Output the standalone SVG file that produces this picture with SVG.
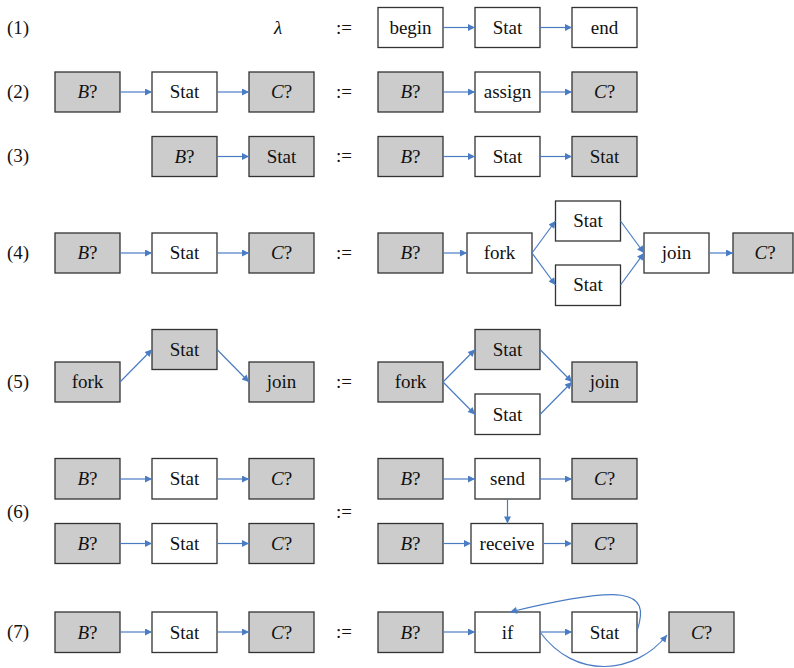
<svg xmlns="http://www.w3.org/2000/svg" width="794" height="668" viewBox="0 0 794 668">
<defs>
<style>
.b{stroke:#333;stroke-width:1.3;fill:#fff}
.g{fill:#cccccc}
text{font-family:"Liberation Serif","Times New Roman",Tinos,"DejaVu Serif","Noto Serif",serif;font-size:19px;fill:#111;text-anchor:middle}
.lab{text-anchor:start}
.i{font-style:italic}
.c path,.c line{stroke:#4a7cc4;stroke-width:1.2;fill:none;marker-end:url(#ah)}
</style>
<marker id="ah" viewBox="0 0 10 10" refX="10" refY="5" markerWidth="9" markerHeight="7" markerUnits="userSpaceOnUse" orient="auto">
<path d="M0,0 L10,5 L0,10 z" fill="#4a7cc4"/>
</marker>
</defs>
<rect width="794" height="668" fill="#fff"/>
<g id="labels">
<text class="lab" x="7" y="34">(1)</text>
<text class="lab" x="7" y="98">(2)</text>
<text class="lab" x="7" y="162">(3)</text>
<text class="lab" x="7" y="259">(4)</text>
<text class="lab" x="7" y="388">(5)</text>
<text class="lab" x="7" y="518">(6)</text>
<text class="lab" x="7" y="638">(7)</text>
<text x="278" y="34" class="i">λ</text>
<text x="344" y="34">:=</text>
<text x="344" y="98">:=</text>
<text x="344" y="162">:=</text>
<text x="344" y="259">:=</text>
<text x="344" y="388">:=</text>
<text x="344" y="518">:=</text>
<text x="344" y="638">:=</text>
</g>

<g id="r1-begin"><rect class="b" x="378" y="7.5" width="65" height="40"/><text x="410.5" y="33.5">begin</text></g>
<g id="r1-stat"><rect class="b" x="475" y="7.5" width="65" height="40"/><text x="507.5" y="33.5">Stat</text></g>
<g id="r1-end"><rect class="b" x="572" y="7.5" width="65" height="40"/><text x="604.5" y="33.5">end</text></g>

<g id="r2-lb"><rect class="b g" x="55" y="72" width="65" height="40"/><text x="87.5" y="98"><tspan class="i">B</tspan>?</text></g>
<g id="r2-ls"><rect class="b" x="152" y="72" width="65" height="40"/><text x="184.5" y="98">Stat</text></g>
<g id="r2-lc"><rect class="b g" x="249" y="72" width="65" height="40"/><text x="281.5" y="98"><tspan class="i">C</tspan>?</text></g>
<g id="r2-rb"><rect class="b g" x="378" y="72" width="65" height="40"/><text x="410.5" y="98"><tspan class="i">B</tspan>?</text></g>
<g id="r2-ra"><rect class="b" x="475" y="72" width="65" height="40"/><text x="507.5" y="98">assign</text></g>
<g id="r2-rc"><rect class="b g" x="572" y="72" width="65" height="40"/><text x="604.5" y="98"><tspan class="i">C</tspan>?</text></g>

<g id="r3-lb"><rect class="b g" x="152" y="136.5" width="65" height="40"/><text x="184.5" y="162.5"><tspan class="i">B</tspan>?</text></g>
<g id="r3-ls"><rect class="b g" x="249" y="136.5" width="65" height="40"/><text x="281.5" y="162.5">Stat</text></g>
<g id="r3-rb"><rect class="b g" x="378" y="136.5" width="65" height="40"/><text x="410.5" y="162.5"><tspan class="i">B</tspan>?</text></g>
<g id="r3-rs"><rect class="b" x="475" y="136.5" width="65" height="40"/><text x="507.5" y="162.5">Stat</text></g>
<g id="r3-rs2"><rect class="b g" x="572" y="136.5" width="65" height="40"/><text x="604.5" y="162.5">Stat</text></g>

<g id="r4-lb"><rect class="b g" x="55" y="233" width="65" height="40"/><text x="87.5" y="259"><tspan class="i">B</tspan>?</text></g>
<g id="r4-ls"><rect class="b" x="152" y="233" width="65" height="40"/><text x="184.5" y="259">Stat</text></g>
<g id="r4-lc"><rect class="b g" x="249" y="233" width="65" height="40"/><text x="281.5" y="259"><tspan class="i">C</tspan>?</text></g>
<g id="r4-rb"><rect class="b g" x="378" y="233" width="65" height="40"/><text x="410.5" y="259"><tspan class="i">B</tspan>?</text></g>
<g id="r4-fork"><rect class="b" x="467" y="233" width="65" height="40"/><text x="499.5" y="259">fork</text></g>
<g id="r4-s1"><rect class="b" x="555.5" y="201" width="65" height="40"/><text x="588" y="227">Stat</text></g>
<g id="r4-s2"><rect class="b" x="555.5" y="265" width="65" height="40.5"/><text x="588" y="291">Stat</text></g>
<g id="r4-join"><rect class="b" x="644" y="233" width="65" height="40"/><text x="676.5" y="259">join</text></g>
<g id="r4-rc"><rect class="b g" x="733" y="233" width="60" height="40"/><text x="765" y="259"><tspan class="i">C</tspan>?</text></g>

<g id="r5-lf"><rect class="b g" x="55" y="362" width="65" height="40"/><text x="87.5" y="388">fork</text></g>
<g id="r5-ls"><rect class="b g" x="152" y="329.5" width="65" height="40"/><text x="184.5" y="355.5">Stat</text></g>
<g id="r5-lj"><rect class="b g" x="249" y="362" width="65" height="40"/><text x="281.5" y="388">join</text></g>
<g id="r5-rf"><rect class="b g" x="378" y="362" width="65" height="40"/><text x="410.5" y="388">fork</text></g>
<g id="r5-rs1"><rect class="b g" x="475" y="329.5" width="65" height="40"/><text x="507.5" y="355.5">Stat</text></g>
<g id="r5-rs2"><rect class="b" x="475" y="394" width="65" height="40.5"/><text x="507.5" y="420.5">Stat</text></g>
<g id="r5-rj"><rect class="b g" x="572" y="362" width="65" height="40"/><text x="604.5" y="388">join</text></g>

<g id="r6-lb1"><rect class="b g" x="55" y="458.5" width="65" height="40.5"/><text x="87.5" y="485"><tspan class="i">B</tspan>?</text></g>
<g id="r6-ls1"><rect class="b" x="152" y="458.5" width="65" height="40.5"/><text x="184.5" y="485">Stat</text></g>
<g id="r6-lc1"><rect class="b g" x="249" y="458.5" width="65" height="40.5"/><text x="281.5" y="485"><tspan class="i">C</tspan>?</text></g>
<g id="r6-lb2"><rect class="b g" x="55" y="523.5" width="65" height="40"/><text x="87.5" y="549.5"><tspan class="i">B</tspan>?</text></g>
<g id="r6-ls2"><rect class="b" x="152" y="523.5" width="65" height="40"/><text x="184.5" y="549.5">Stat</text></g>
<g id="r6-lc2"><rect class="b g" x="249" y="523.5" width="65" height="40"/><text x="281.5" y="549.5"><tspan class="i">C</tspan>?</text></g>
<g id="r6-rb1"><rect class="b g" x="378" y="458.5" width="65" height="40.5"/><text x="410.5" y="485"><tspan class="i">B</tspan>?</text></g>
<g id="r6-send"><rect class="b" x="475" y="458.5" width="65" height="40.5"/><text x="507.5" y="485">send</text></g>
<g id="r6-rc1"><rect class="b g" x="572" y="458.5" width="65" height="40.5"/><text x="604.5" y="485"><tspan class="i">C</tspan>?</text></g>
<g id="r6-rb2"><rect class="b g" x="378" y="523.5" width="65" height="40"/><text x="410.5" y="549.5"><tspan class="i">B</tspan>?</text></g>
<g id="r6-recv"><rect class="b" x="471" y="523.5" width="72" height="40"/><text x="507" y="549.5">receive</text></g>
<g id="r6-rc2"><rect class="b g" x="572" y="523.5" width="65" height="40"/><text x="604.5" y="549.5"><tspan class="i">C</tspan>?</text></g>

<g id="r7-lb"><rect class="b g" x="55" y="612" width="65" height="40.5"/><text x="87.5" y="638.5"><tspan class="i">B</tspan>?</text></g>
<g id="r7-ls"><rect class="b" x="152" y="612" width="65" height="40.5"/><text x="184.5" y="638.5">Stat</text></g>
<g id="r7-lc"><rect class="b g" x="249" y="612" width="65" height="40.5"/><text x="281.5" y="638.5"><tspan class="i">C</tspan>?</text></g>
<g id="r7-rb"><rect class="b g" x="378" y="612" width="65" height="40.5"/><text x="410.5" y="638.5"><tspan class="i">B</tspan>?</text></g>
<g id="r7-if"><rect class="b" x="475" y="612" width="65" height="40.5"/><text x="507.5" y="638.5">if</text></g>
<g id="r7-stat"><rect class="b" x="572" y="612" width="65" height="40.5"/><text x="604.5" y="638.5">Stat</text></g>
<g id="r7-rc"><rect class="b g" x="669" y="612" width="65" height="40.5"/><text x="701.5" y="638.5"><tspan class="i">C</tspan>?</text></g>

<g id="connectors" class="c">
<line x1="443" y1="27.5" x2="475" y2="27.5"/>
<line x1="540" y1="27.5" x2="572" y2="27.5"/>
<line x1="120" y1="92" x2="152" y2="92"/>
<line x1="217" y1="92" x2="249" y2="92"/>
<line x1="443" y1="92" x2="475" y2="92"/>
<line x1="540" y1="92" x2="572" y2="92"/>
<line x1="217" y1="156.5" x2="249" y2="156.5"/>
<line x1="443" y1="156.5" x2="475" y2="156.5"/>
<line x1="540" y1="156.5" x2="572" y2="156.5"/>
<line x1="120" y1="253" x2="152" y2="253"/>
<line x1="217" y1="253" x2="249" y2="253"/>
<line x1="443" y1="253" x2="467" y2="253"/>
<line x1="532" y1="253" x2="555.5" y2="221"/>
<line x1="532" y1="253" x2="555.5" y2="285"/>
<line x1="620.5" y1="221" x2="644" y2="253"/>
<line x1="620.5" y1="285" x2="644" y2="253"/>
<line x1="709" y1="253" x2="733" y2="253"/>
<line x1="120" y1="382" x2="152" y2="349.5"/>
<line x1="217" y1="349.5" x2="249" y2="382"/>
<line x1="443" y1="382" x2="475" y2="349.5"/>
<line x1="443" y1="382" x2="475" y2="414.5"/>
<line x1="540" y1="349.5" x2="572" y2="382"/>
<line x1="540" y1="414.5" x2="572" y2="382"/>
<line x1="120" y1="479" x2="152" y2="479"/>
<line x1="217" y1="479" x2="249" y2="479"/>
<line x1="120" y1="543.5" x2="152" y2="543.5"/>
<line x1="217" y1="543.5" x2="249" y2="543.5"/>
<line x1="443" y1="479" x2="475" y2="479"/>
<line x1="540" y1="479" x2="572" y2="479"/>
<line x1="507.5" y1="499" x2="507.5" y2="523.5"/>
<line x1="443" y1="543.5" x2="471" y2="543.5"/>
<line x1="543" y1="543.5" x2="572" y2="543.5"/>
<line x1="120" y1="632" x2="152" y2="632"/>
<line x1="217" y1="632" x2="249" y2="632"/>
<line x1="443" y1="632" x2="475" y2="632"/>
<line x1="540" y1="632" x2="572" y2="632"/>
<path d="M637,631 C652,588 622,585 510,612"/>
<path d="M540,632 C575,680 635,675 667,635"/>
</g>
</svg>
